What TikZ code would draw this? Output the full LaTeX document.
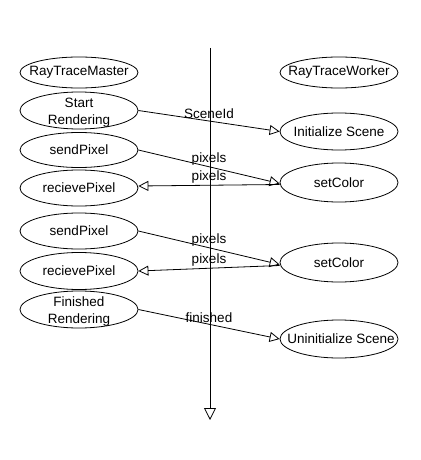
\documentclass[tikz,border=0pt]{standalone}
\usepackage{fontspec}
\setmainfont{Liberation Sans}
\usetikzlibrary{arrows.meta,shapes.geometric}
\begin{document}
\begin{tikzpicture}[x=1pt,y=-1pt,
  every node/.style={font=\fontsize{13.5}{17}\selectfont},
  ell/.style={draw, line width=0.8pt, ellipse, minimum width=118pt, inner sep=0pt},
  lbl/.style={align=center, inner sep=0pt},
  msg/.style={line width=0.8pt, -{Triangle[open,length=10pt,width=10pt]}},
  mlab/.style={anchor=south, inner sep=1.5pt, pos=0.5}]
\useasboundingbox (0,0) rectangle (420,460);
% lifeline
\coordinate (ltop) at (210,48);
\coordinate (lbot) at (210,420);
\draw[line width=0.8pt, -{Triangle[open,length=12pt,width=12pt]}] (ltop) -- (lbot);
% left column
\node[ell, minimum height=31pt] (rtm) at (79,72.5) {};
\node[lbl] (rtmt) at (rtm) {RayTraceMaster};
\node[ell, minimum height=37pt] (sr) at (79,110.5) {};
\node[lbl] (srt) at (79,113) {Start\\Rendering};
\node[ell, minimum height=35pt] (sp1) at (79,150) {};
\node[lbl] (sp1t) at (sp1) {sendPixel};
\node[ell, minimum height=36pt] (rp1) at (79,188) {};
\node[lbl] (rp1t) at (rp1) {recievePixel};
\node[ell, minimum height=36pt] (sp2) at (79,231) {};
\node[lbl] (sp2t) at (sp2) {sendPixel};
\node[ell, minimum height=37pt] (rp2) at (79,271) {};
\node[lbl] (rp2t) at (rp2) {recievePixel};
\node[ell, minimum height=37pt] (fr) at (79,309.5) {};
\node[lbl] (frt) at (79,312) {Finished\\Rendering};
% right column
\node[ell, minimum height=31pt] (rtw) at (339,72.5) {};
\node[lbl] (rtwt) at (rtw) {RayTraceWorker};
\node[ell, minimum height=37pt] (is) at (339,131.5) {};
\node[lbl] (ist) at (is) {Initialize Scene};
\node[ell, minimum height=39pt] (sc1) at (339,182.5) {};
\node[lbl] (sc1t) at (sc1) {setColor};
\node[ell, minimum height=39pt] (sc2) at (339,262.5) {};
\node[lbl] (sc2t) at (sc2) {setColor};
\node[ell, minimum height=38pt] (us) at (339,339) {};
\node[lbl] (ust) at (341,339) {Uninitialize Scene};
% messages
\draw[msg] (sr.east) -- node[mlab] (m1) {SceneId} (is.west);
\draw[msg] (sp1.east) -- node[mlab] (m2) {pixels} ([yshift=-1pt]sc1.west);
\draw[msg] ([yshift=-2pt]sc1.west) -- node[mlab] (m3) {pixels} ([yshift=2pt]rp1.east);
\draw[msg] (sp2.east) -- node[mlab] (m4) {pixels} ([yshift=-2pt]sc2.west);
\draw[msg] ([yshift=-3pt]sc2.west) -- node[mlab] (m5) {pixels} (rp2.east);
\draw[msg] (fr.east) -- node[mlab] (m6) {finished} (us.west);
\end{tikzpicture}
\end{document}
